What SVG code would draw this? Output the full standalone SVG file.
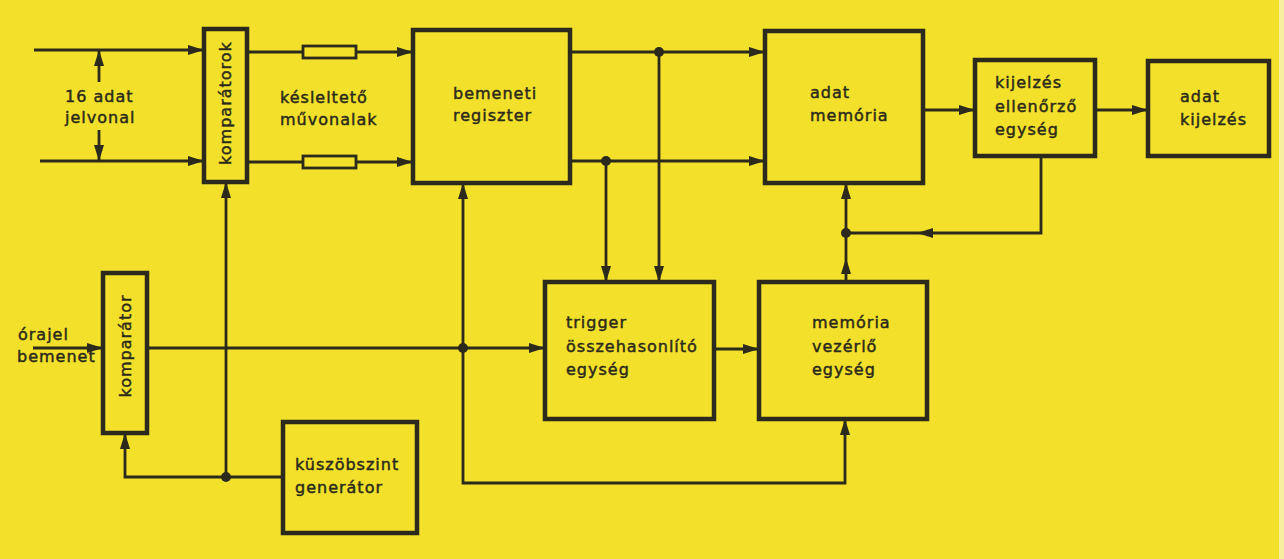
<svg xmlns="http://www.w3.org/2000/svg" width="1284" height="559" viewBox="0 0 1284 559">
<defs>
<style>
.box{fill:none;stroke:#2b2a1c;stroke-width:4.5}
.ln{fill:none;stroke:#2b2a1c;stroke-width:2.8}
.arr{marker-end:url(#ah)}
.dot{fill:#2b2a1c}
text{font-family:"DejaVu Sans","Liberation Sans",sans-serif;font-size:16px;letter-spacing:1px;fill:#2b2a1c;stroke:#2b2a1c;stroke-width:0.45}
</style>
<marker id="ah" markerUnits="userSpaceOnUse" markerWidth="18" markerHeight="12" refX="16" refY="5" orient="auto">
<path d="M0,0 L16,5 L0,10 z" fill="#2b2a1c"/>
</marker>
</defs>
<rect x="0" y="0" width="1284" height="559" fill="#F3E02A"/>
<rect x="1279" y="0" width="5" height="559" fill="#F6EE9E"/>

<g id="connectors">
<path class="ln arr" d="M34,50 H204"/>
<path class="ln arr" d="M40,161 H204"/>
<path class="ln arr" d="M99,82 V50"/>
<path class="ln arr" d="M99,130 V161"/>
<path class="ln" d="M247,52 H303"/>
<rect x="303" y="46" width="53" height="12" class="ln"/>
<path class="ln arr" d="M356,52 H413"/>
<path class="ln" d="M247,162 H303"/>
<rect x="303" y="156" width="53" height="12" class="ln"/>
<path class="ln arr" d="M356,162 H413"/>
<path class="ln arr" d="M570,52 H765"/>
<path class="ln arr" d="M570,161 H765"/>
<path class="ln arr" d="M659,52 V282"/>
<path class="ln arr" d="M606,161 V282"/>
<circle class="dot" cx="659" cy="52" r="5"/>
<circle class="dot" cx="606" cy="161" r="5"/>
<path class="ln arr" d="M923,110 H975"/>
<path class="ln arr" d="M1095,110 H1148"/>
<path class="ln arr" d="M1041,156 V233 H917"/>
<path class="ln" d="M917,233 H846"/>
<path class="ln arr" d="M846,282 V258"/>
<path class="ln arr" d="M846,258 V183"/>
<circle class="dot" cx="846" cy="233" r="5"/>
<path class="ln arr" d="M33,348 H103"/>
<path class="ln arr" d="M147,348 H545"/>
<circle class="dot" cx="463" cy="348" r="5"/>
<path class="ln arr" d="M463,348 V183"/>
<path class="ln arr" d="M463,348 V483 H845 V419"/>
<path class="ln arr" d="M714,349 H759"/>
<path class="ln arr" d="M226,477 V182"/>
<path class="ln arr" d="M226,477 H125 V433"/>
<path class="ln" d="M226,477 H283"/>
<circle class="dot" cx="226" cy="477" r="5"/>
</g>

<g id="label-16adat">
<text x="65" y="102">16 adat</text>
<text x="65" y="123">jelvonal</text>
</g>
<g id="label-kesleltet">
<text x="280" y="103">késleltető</text>
<text x="280" y="125">művonalak</text>
</g>
<g id="label-orajel">
<text x="18" y="340">órajel</text>
<text x="17" y="362">bemenet</text>
</g>

<g id="komparatorok">
<rect class="box" x="204" y="29" width="43" height="153"/>
<text transform="translate(231,103) rotate(-90)" text-anchor="middle">komparátorok</text>
</g>
<g id="bemeneti">
<rect class="box" x="413" y="30" width="157" height="153"/>
<text x="453" y="99">bemeneti</text>
<text x="453" y="121">regiszter</text>
</g>
<g id="adatmemoria">
<rect class="box" x="765" y="31" width="158" height="152"/>
<text x="810" y="98">adat</text>
<text x="810" y="121">memória</text>
</g>
<g id="kijelzesellenorzo">
<rect class="box" x="975" y="60" width="120" height="96"/>
<text x="995" y="88">kijelzés</text>
<text x="995" y="112">ellenőrző</text>
<text x="995" y="135">egység</text>
</g>
<g id="adatkijelzes">
<rect class="box" x="1148" y="61" width="121" height="95"/>
<text x="1180" y="102">adat</text>
<text x="1180" y="125">kijelzés</text>
</g>
<g id="komparator">
<rect class="box" x="103" y="273" width="44" height="160"/>
<text transform="translate(131,346) rotate(-90)" text-anchor="middle">komparátor</text>
</g>
<g id="trigger">
<rect class="box" x="545" y="282" width="169" height="137"/>
<text x="566" y="328">trigger</text>
<text x="566" y="352">összehasonlító</text>
<text x="566" y="375">egység</text>
</g>
<g id="memoriavezerlo">
<rect class="box" x="759" y="282" width="168" height="137"/>
<text x="812" y="328">memória</text>
<text x="812" y="352">vezérlő</text>
<text x="812" y="375">egység</text>
</g>
<g id="kuszob">
<rect class="box" x="283" y="422" width="134" height="111"/>
<text x="295" y="470">küszöbszint</text>
<text x="295" y="493">generátor</text>
</g>
</svg>
